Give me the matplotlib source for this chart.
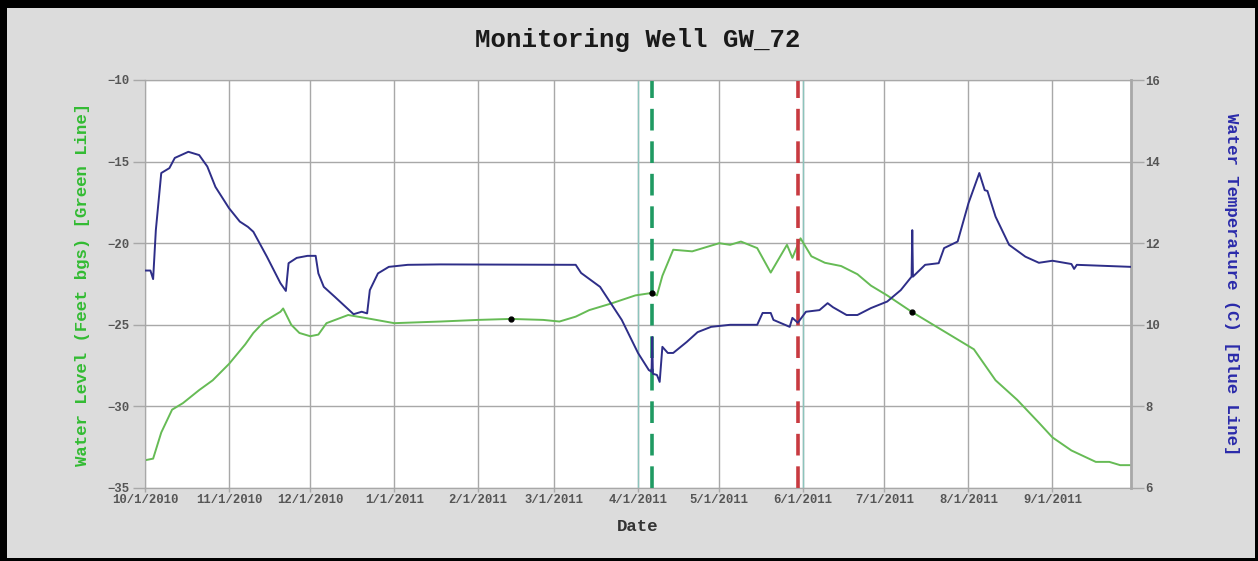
import matplotlib
matplotlib.use("Agg")
import matplotlib.pyplot as plt
import pandas as pd

# ---------------- data ----------------
title = "Monitoring Well GW_72"
x_label = "Date"
left_label = "Water Level (Feet bgs) [Green Line]"
right_label = "Water Temperature (C) [Blue Line]"

level_dates = [
    "2010-10-01", "2010-10-04", "2010-10-07", "2010-10-11", "2010-10-15", "2010-10-21",
    "2010-10-26", "2010-11-01", "2010-11-07", "2010-11-10", "2010-11-14", "2010-11-20",
    "2010-11-21", "2010-11-24", "2010-11-27", "2010-12-01", "2010-12-04", "2010-12-07",
    "2010-12-15", "2010-12-22", "2011-01-01", "2011-01-18", "2011-02-01", "2011-02-13",
    "2011-02-25", "2011-03-03", "2011-03-09", "2011-03-14", "2011-03-22", "2011-03-31",
    "2011-04-06", "2011-04-08", "2011-04-10", "2011-04-14", "2011-04-21", "2011-05-01",
    "2011-05-05", "2011-05-09", "2011-05-15", "2011-05-20", "2011-05-26", "2011-05-28",
    "2011-05-31", "2011-06-04", "2011-06-09", "2011-06-15", "2011-06-21", "2011-06-26",
    "2011-07-02", "2011-07-11", "2011-07-23", "2011-08-03", "2011-08-11", "2011-08-19",
    "2011-08-27", "2011-09-01", "2011-09-08", "2011-09-17", "2011-09-22", "2011-09-26",
    "2011-09-30",
]
level_values = [
    -33.3, -33.2, -31.6, -30.2, -29.8, -29.0,
    -28.4, -27.4, -26.2, -25.5, -24.8, -24.2,
    -24.0, -25.0, -25.5, -25.7, -25.6, -24.9,
    -24.4, -24.6, -24.9, -24.8, -24.7, -24.64,
    -24.7, -24.8, -24.5, -24.1, -23.7, -23.2,
    -23.05, -23.2, -22.0, -20.4, -20.5, -20.0,
    -20.1, -19.9, -20.3, -21.8, -20.1, -20.9,
    -19.7, -20.8, -21.2, -21.4, -21.9, -22.6,
    -23.2, -24.2, -25.4, -26.5, -28.4, -29.6,
    -31.0, -31.9, -32.7, -33.4, -33.4, -33.6,
    -33.6,
]

temp_dates = [
    "2010-10-01 00:00", "2010-10-03 00:00", "2010-10-04 00:00", "2010-10-05 00:00",
    "2010-10-07 00:00", "2010-10-10 00:00", "2010-10-12 00:00", "2010-10-17 00:00",
    "2010-10-21 00:00", "2010-10-24 00:00", "2010-10-27 00:00", "2010-11-01 00:00",
    "2010-11-05 00:00", "2010-11-08 00:00", "2010-11-10 00:00", "2010-11-15 00:00",
    "2010-11-20 00:00", "2010-11-22 00:00", "2010-11-23 00:00", "2010-11-26 00:00",
    "2010-11-30 00:00", "2010-12-03 00:00", "2010-12-04 00:00", "2010-12-06 00:00",
    "2010-12-10 00:00", "2010-12-17 00:00", "2010-12-20 00:00", "2010-12-22 00:00",
    "2010-12-23 00:00", "2010-12-26 00:00", "2010-12-30 00:00", "2011-01-06 00:00",
    "2011-01-18 00:00", "2011-03-09 00:00", "2011-03-11 00:00", "2011-03-18 00:00",
    "2011-03-26 00:00", "2011-04-01 00:00", "2011-04-05 00:00", "2011-04-06 00:00",
    "2011-04-06 06:00", "2011-04-06 12:00", "2011-04-08 00:00", "2011-04-09 00:00",
    "2011-04-10 00:00", "2011-04-12 00:00", "2011-04-14 00:00", "2011-04-19 00:00",
    "2011-04-23 00:00", "2011-04-28 00:00", "2011-05-05 00:00", "2011-05-15 00:00",
    "2011-05-17 00:00", "2011-05-20 00:00", "2011-05-21 00:00", "2011-05-27 00:00",
    "2011-05-28 00:00", "2011-05-30 00:00", "2011-06-02 00:00", "2011-06-07 00:00",
    "2011-06-10 00:00", "2011-06-12 00:00", "2011-06-17 00:00", "2011-06-21 00:00",
    "2011-06-26 00:00", "2011-07-02 00:00", "2011-07-07 00:00", "2011-07-11 00:00",
    "2011-07-11 06:00", "2011-07-11 12:00", "2011-07-16 00:00", "2011-07-21 00:00",
    "2011-07-23 00:00", "2011-07-28 00:00", "2011-08-01 00:00", "2011-08-05 00:00",
    "2011-08-07 00:00", "2011-08-08 00:00", "2011-08-11 00:00", "2011-08-16 00:00",
    "2011-08-22 00:00", "2011-08-27 00:00", "2011-09-01 00:00", "2011-09-08 00:00",
    "2011-09-09 00:00", "2011-09-10 00:00", "2011-09-18 00:00", "2011-09-30 00:00",
]
temp_values = [
    11.33, 11.33, 11.12, 12.32,
    13.72, 13.84, 14.09, 14.24,
    14.16, 13.88, 13.38, 12.86,
    12.53, 12.40, 12.28, 11.67,
    11.02, 10.83, 11.51, 11.64,
    11.69, 11.69, 11.26, 10.93,
    10.69, 10.26, 10.32, 10.28,
    10.85, 11.26, 11.42, 11.47,
    11.48, 11.47, 11.27, 10.93,
    10.12, 9.31, 8.89, 8.85,
    9.70, 8.80, 8.77, 8.60,
    9.46, 9.31, 9.31, 9.58,
    9.82, 9.95, 10.00, 10.00,
    10.29, 10.29, 10.12, 9.95,
    10.17, 10.05, 10.32, 10.36,
    10.53, 10.43, 10.24, 10.24,
    10.41, 10.57, 10.85, 11.18,
    12.32, 11.18, 11.47, 11.51,
    11.88, 12.04, 12.98, 13.72,
    13.30, 13.28, 12.65, 11.96,
    11.67, 11.52, 11.57, 11.49,
    11.37, 11.47, 11.45, 11.42,
]

marker_dates = ["2011-02-13", "2011-04-06", "2011-07-11"]
marker_values = [-24.64, -23.05, -24.2]

green_event_date = "2011-04-06"
red_event_date = "2011-05-30"
thin_line_dates = ["2011-04-01", "2011-06-01"]

x_ticks = ["2010-10-01", "2010-11-01", "2010-12-01", "2011-01-01", "2011-02-01",
           "2011-03-01", "2011-04-01", "2011-05-01", "2011-06-01", "2011-07-01",
           "2011-08-01", "2011-09-01"]
x_start, x_end = "2010-10-01", "2011-09-30"
left_ticks = [-35, -30, -25, -20, -15, -10]
right_ticks = [6, 8, 10, 12, 14, 16]

# ---------------- plot ----------------
MONO = ["Liberation Mono", "DejaVu Sans Mono"]
fig = plt.figure(figsize=(12.58, 5.61), dpi=100, facecolor="black")
# gray panel inside black frame
panel = fig.add_axes([7 / 1258, 3 / 561, 1248 / 1258, 550 / 561])
panel.set_facecolor("#dcdcdc")
panel.set_xticks([]); panel.set_yticks([])
for s in panel.spines.values():
    s.set_visible(False)
panel.set_zorder(-10)

ax = fig.add_axes([145 / 1258, 1 - 488 / 561, (1131 - 145) / 1258, (488 - 80) / 561])
ax.set_facecolor("white")
ax2 = ax.twinx()

ld = pd.to_datetime(level_dates, format="%Y-%m-%d")
td = pd.to_datetime(temp_dates, format="%Y-%m-%d %H:%M")

ax.set_xlim(pd.Timestamp(x_start), pd.Timestamp(x_end))
ax.set_ylim(-35, -10)
ax2.set_ylim(6, 16)

xt = pd.to_datetime(x_ticks)
ax.set_xticks(xt)
ax.set_xticklabels([f"{d.month}/{d.day}/{d.year}" for d in xt])
ax.set_yticks(left_ticks)
ax2.set_yticks(right_ticks)

ax.grid(True, color="#a8a8a8", lw=1.0)
ax.set_axisbelow(True)

ax.tick_params(axis="y", colors="#555555", labelsize=8.8, length=9, width=1.0, pad=2)
ax.tick_params(axis="y", color="#a8a8a8")
ax.tick_params(axis="x", colors="#555555", labelsize=8.8, length=3, width=1.0, pad=1)
ax.tick_params(axis="x", color="#a8a8a8")
ax2.tick_params(axis="y", colors="#555555", labelsize=8.8, length=9, width=1.0, pad=1)
ax2.tick_params(axis="y", color="#a8a8a8")
for a in (ax, ax2):
    for lab in a.get_xticklabels() + a.get_yticklabels():
        lab.set_family(MONO)
        lab.set_fontweight("bold")
    for s in a.spines.values():
        s.set_color("#a8a8a8")
ax2.spines["right"].set_linewidth(2.0)

# thin teal reference lines
for d in thin_line_dates:
    ax.axvline(pd.Timestamp(d), color="#8cc4bc", lw=1.0, zorder=1)

ax.plot(ld, level_values, color="#66bb55", lw=1.4, zorder=3)
ax.plot(pd.to_datetime(marker_dates), marker_values, "o", color="black", ms=3.5, zorder=6)

ax.axvline(pd.Timestamp(green_event_date), color="#1f9a62", lw=2.6,
           dashes=(6, 3), zorder=5)
ax.axvline(pd.Timestamp(red_event_date), color="#c83a40", lw=2.6,
           dashes=(6, 3), zorder=5)

ax2.plot(td, temp_values, color="#2e2e88", lw=1.4, zorder=3)

ax.set_title(title, family=MONO, fontsize=18.5, fontweight="bold", color="#1a1a1a", pad=24)
ax.set_xlabel(x_label, family=MONO, fontsize=12.5, fontweight="bold", color="#333333", labelpad=10)
ax.set_ylabel(left_label, family=MONO, fontsize=12.5, fontweight="bold", color="#33bb33", labelpad=13)
ax2.set_ylabel(right_label, family=MONO, fontsize=12.5, fontweight="bold", color="#2a2aaa",
               rotation=270, labelpad=57)

fig.savefig("out.png", dpi=100, facecolor="black")
